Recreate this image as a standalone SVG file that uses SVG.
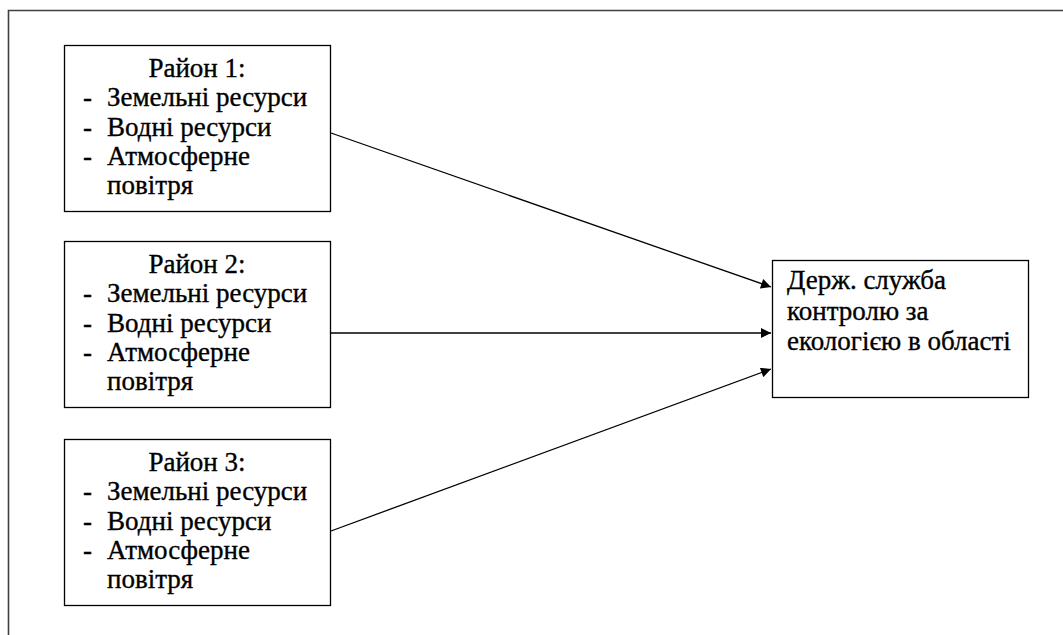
<svg xmlns="http://www.w3.org/2000/svg" width="1063" height="635" viewBox="0 0 1063 635">
  <style>
    .box { fill: #fff; stroke: #000; stroke-width: 1.3; }
    .frame { fill: none; stroke: #404040; stroke-width: 1.6; }
    .c { text-anchor: middle; }
    .link { stroke: #000; stroke-width: 1.3; fill: none; marker-end: url(#arrow); }
    text { font-family: "Liberation Serif", "Times New Roman", serif; font-size: 27px; fill: #000; stroke: #000; stroke-width: 0.35; }
  </style>
  <defs>
    <marker id="arrow" viewBox="0 0 10 10" refX="10" refY="5" markerWidth="14" markerHeight="10" markerUnits="userSpaceOnUse" orient="auto">
      <path d="M0,0 L10,5 L0,10 Z" fill="#000"/>
    </marker>
  </defs>
  <rect width="1063" height="635" fill="#fff"/>
  <!-- page frame -->
  <path class="frame" d="M1063,10.5 H8.5 V635"/>

  <g id="connectors">
    <line class="link" x1="331" y1="133" x2="771" y2="287"/>
    <line class="link" x1="331" y1="333" x2="771" y2="333"/>
    <line class="link" x1="331" y1="531" x2="771" y2="369"/>
  </g>

  <g id="district1">
    <rect class="box" x="64.5" y="45.5" width="266" height="166"/>
    <text class="c" x="197" y="77">Район 1:</text>
    <text x="83" y="106">-</text><text x="107" y="106">Земельні ресурси</text>
    <text x="83" y="136">-</text><text x="107" y="136">Водні ресурси</text>
    <text x="83" y="165">-</text><text x="107" y="165">Атмосферне</text>
    <text x="107" y="194">повітря</text>
  </g>

  <g id="district2">
    <rect class="box" x="64.5" y="241.5" width="266" height="166"/>
    <text class="c" x="197" y="273">Район 2:</text>
    <text x="83" y="302">-</text><text x="107" y="302">Земельні ресурси</text>
    <text x="83" y="332">-</text><text x="107" y="332">Водні ресурси</text>
    <text x="83" y="361">-</text><text x="107" y="361">Атмосферне</text>
    <text x="107" y="390">повітря</text>
  </g>

  <g id="district3">
    <rect class="box" x="64.5" y="439.5" width="266" height="166"/>
    <text class="c" x="197" y="471">Район 3:</text>
    <text x="83" y="500">-</text><text x="107" y="500">Земельні ресурси</text>
    <text x="83" y="530">-</text><text x="107" y="530">Водні ресурси</text>
    <text x="83" y="559">-</text><text x="107" y="559">Атмосферне</text>
    <text x="107" y="588">повітря</text>
  </g>

  <g id="service">
    <rect class="box" x="772.5" y="260.5" width="256" height="137"/>
    <text x="787" y="289">Держ. служба</text>
    <text x="787" y="320">контролю за</text>
    <text x="787" y="350">екологією в області</text>
  </g>
</svg>
